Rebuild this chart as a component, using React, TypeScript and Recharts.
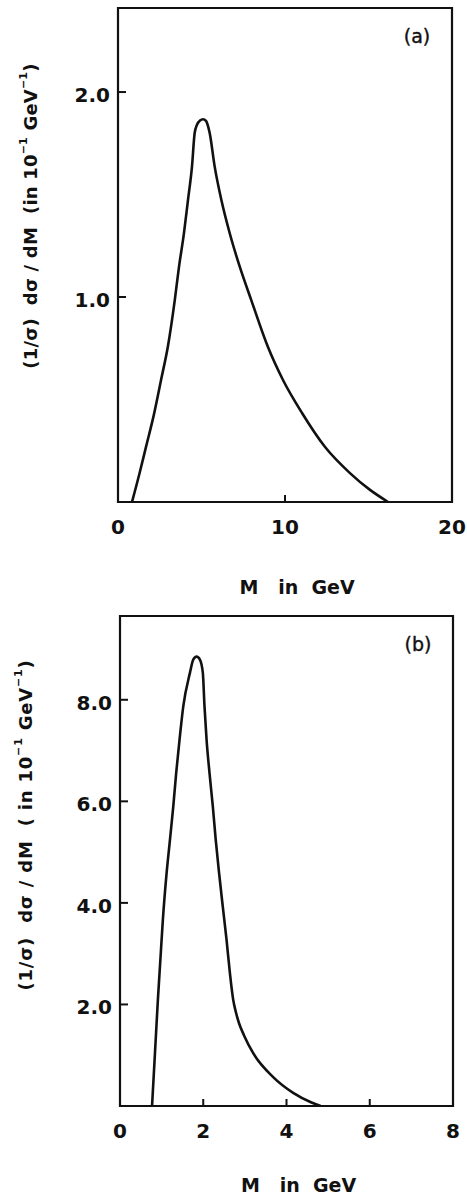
import React from 'react'
import { LineChart, Line, XAxis, YAxis, ReferenceArea, Label } from 'recharts'

// panel (a): invariant mass distribution, M in GeV vs (1/σ) dσ/dM
const massA = [0.84, 1.29, 1.68, 2.16, 2.59, 2.99, 3.4, 3.65, 3.95, 4.19, 4.43, 4.59, 4.73, 4.91, 5.09, 5.27, 5.39, 5.49, 5.79, 6.19, 6.69, 7.29, 7.98, 8.98, 9.88, 11.02, 12.4, 13.89, 15.09, 16.17]
const distA = [0, 0.14, 0.27, 0.43, 0.6, 0.76, 0.985, 1.146, 1.312, 1.473, 1.636, 1.8, 1.84, 1.861, 1.867, 1.859, 1.834, 1.8, 1.636, 1.473, 1.311, 1.148, 0.985, 0.756, 0.595, 0.434, 0.268, 0.141, 0.059, 0]
const xTicksA = [0, 10, 20]
const yTicksA = [1, 2]

// panel (b)
const massB = [0.77, 0.84, 0.91, 0.97, 1.03, 1.12, 1.2, 1.28, 1.35, 1.43, 1.52, 1.68, 1.76, 1.84, 1.92, 1.99, 2.03, 2.08, 2.15, 2.23, 2.3, 2.38, 2.47, 2.56, 2.64, 2.72, 2.78, 2.86, 2.98, 3.2, 3.68, 4.16, 4.6, 4.82]
const distB = [0, 1.04, 2.09, 2.88, 3.67, 4.59, 5.24, 5.9, 6.56, 7.21, 7.87, 8.53, 8.79, 8.85, 8.79, 8.53, 7.87, 7.21, 6.56, 5.9, 5.24, 4.59, 3.92, 3.27, 2.62, 2.09, 1.86, 1.63, 1.39, 1.04, 0.57, 0.26, 0.07, 0]
const xTicksB = [0, 2, 4, 6, 8]
const yTicksB = [2, 4, 6, 8]

const FONT = '"DejaVu Sans", sans-serif'
const INK = '#111'

const XTick = ({ x, y, payload }: any) => (
  <g>
    <line x1={x} x2={x} y1={y} y2={y - 7} stroke={INK} strokeWidth={2} />
    <text x={x} y={y + 25} textAnchor="middle" dominantBaseline="central" fontFamily={FONT} fontSize={20} fontWeight="bold" fill={INK}>
      {payload.value}
    </text>
  </g>
)

const YTick = ({ x, y, payload }: any) => (
  <g>
    <line x1={x} x2={x + 8} y1={y} y2={y} stroke={INK} strokeWidth={2} />
    <text x={x - 8} y={y + 3} textAnchor="end" dominantBaseline="central" fontFamily={FONT} fontSize={20} fontWeight="bold" fill={INK}>
      {payload.value.toFixed(1)}
    </text>
  </g>
)

const yTitle = (cx: number, cy: number, inPart: string, spacing: number) => () => (
  <text
    transform={`translate(${cx},${cy}) rotate(-90)`}
    textAnchor="middle"
    dominantBaseline="central"
    fontFamily={FONT}
    fontSize={18}
    fontWeight="bold"
    letterSpacing={spacing}
    fill={INK}
    xmlSpace="preserve"
  >
    {`(1/σ)  dσ / dM  ${inPart} 10`}
    <tspan dy={-7} fontSize={11}>−1</tspan>
    <tspan dy={7}>{' GeV'}</tspan>
    <tspan dy={-7} fontSize={11}>−1</tspan>
    <tspan dy={7}>)</tspan>
  </text>
)

const xTitle = (dy: number) => (props: any) => {
  const vb = props.viewBox
  return (
    <text x={vb.x + vb.width / 2 + 12} y={vb.y + dy} textAnchor="middle" dominantBaseline="central" fontFamily={FONT} fontSize={19} fontWeight="bold" fill={INK} xmlSpace="preserve">
      {'M   in  GeV'}
    </text>
  )
}

const panelTag = (tag: string) => (props: any) => {
  const vb = props.viewBox
  return (
    <text x={vb.x + vb.width - 35} y={vb.y + 28} textAnchor="middle" dominantBaseline="central" fontFamily={FONT} fontSize={19} fill={INK} stroke={INK} strokeWidth={0.4}>
      {tag}
    </text>
  )
}

export default function App() {
  const dataA = massA.map((m, i) => ({ m, v: distA[i] }))
  const dataB = massB.map((m, i) => ({ m, v: distB[i] }))

  return (
    <div style={{ position: 'absolute', left: 0, top: 0, width: 467, height: 1196, background: '#fff' }}>
      <div style={{ position: 'absolute', left: 0, top: 0 }}>
        <LineChart width={467} height={600} data={dataA} margin={{ top: 8, right: 15, bottom: 8, left: 58 }}>
          <XAxis dataKey="m" type="number" domain={[0, 20]} ticks={xTicksA} interval={0} height={90} axisLine={false} tickLine={false} tickSize={0} tickMargin={0} tick={<XTick />}>
            <Label content={xTitle(85)} />
          </XAxis>
          <YAxis type="number" domain={[0, 2.41]} allowDataOverflow ticks={yTicksA} interval={0} width={60} axisLine={false} tickLine={false} tickSize={0} tickMargin={0} tick={<YTick />}>
            <Label content={yTitle(30, 216, '(in', 0.2)} />
          </YAxis>
          <ReferenceArea x1={0} x2={20} y1={0} y2={2.41} fill="none" stroke={INK} strokeWidth={2.2} ifOverflow="visible">
            <Label content={panelTag('(a)')} />
          </ReferenceArea>
          <Line dataKey="v" type="monotone" dot={false} stroke={INK} strokeWidth={2.6} isAnimationActive={false} />
        </LineChart>
      </div>
      <div style={{ position: 'absolute', left: 0, top: 600 }}>
        <LineChart width={467} height={596} data={dataB} margin={{ top: 16, right: 14, bottom: 10, left: 60 }}>
          <XAxis dataKey="m" type="number" domain={[0, 8]} ticks={xTicksB} interval={0} height={80} axisLine={false} tickLine={false} tickSize={0} tickMargin={0} tick={<XTick />}>
            <Label content={xTitle(79)} />
          </XAxis>
          <YAxis type="number" domain={[0, 9.65]} allowDataOverflow ticks={yTicksB} interval={0} width={60} axisLine={false} tickLine={false} tickSize={0} tickMargin={0} tick={<YTick />}>
            <Label content={yTitle(25, 225, '( in', 0.8)} />
          </YAxis>
          <ReferenceArea x1={0} x2={8} y1={0} y2={9.65} fill="none" stroke={INK} strokeWidth={2.2} ifOverflow="visible">
            <Label content={panelTag('(b)')} />
          </ReferenceArea>
          <Line dataKey="v" type="monotone" dot={false} stroke={INK} strokeWidth={2.6} isAnimationActive={false} />
        </LineChart>
      </div>
    </div>
  )
}
